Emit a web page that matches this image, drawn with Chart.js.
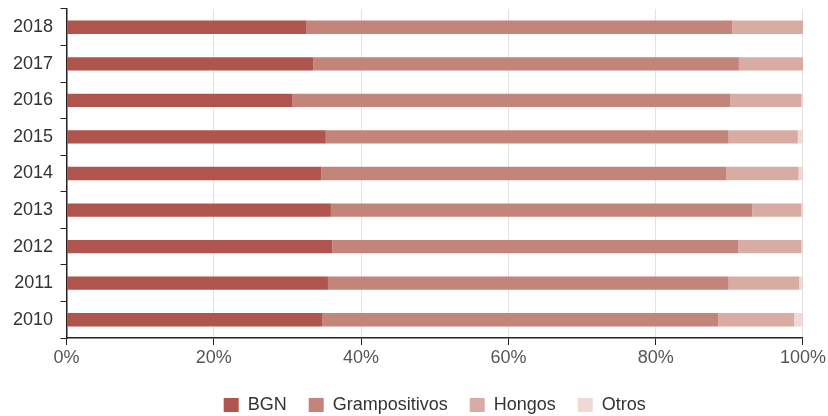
<!DOCTYPE html>
<html>
<head>
<meta charset="utf-8">
<script src="https://cdn.jsdelivr.net/npm/chart.js@4/dist/chart.umd.min.js"></script>
<style>
  html, body { margin: 0; padding: 0; background: #ffffff; }
  #wrap { width: 828px; height: 416px; position: relative; }
</style>
</head>
<body>
<div id="wrap"><canvas id="chart" width="828" height="416"></canvas></div>
<script>
// Years, top to bottom as drawn
const years = ['2018', '2017', '2016', '2015', '2014', '2013', '2012', '2011', '2010'];

// Share of each group per year (%)
const bgn           = [32.6, 33.5, 30.7, 35.2, 34.6, 35.9, 36.1, 35.5, 34.7];
const grampositivos = [57.8, 57.8, 59.4, 54.7, 55.0, 57.2, 55.1, 54.4, 53.8];
const hongos        = [ 9.6,  8.7,  9.7,  9.4,  9.8,  6.7,  8.6,  9.6, 10.3];
const otros         = [ 0.0,  0.0,  0.2,  0.7,  0.6,  0.2,  0.2,  0.5,  1.2];

const seriesNames = ['BGN', 'Grampositivos', 'Hongos', 'Otros'];
const xTicks = [0, 20, 40, 60, 80, 100];

const colors = ['#b0554d', '#c38479', '#d8aca3', '#eed9d4'];
const values = [bgn, grampositivos, hongos, otros];

const datasets = seriesNames.map((name, i) => ({
  label: name,
  data: values[i],
  backgroundColor: colors[i],
  borderWidth: 0,
  categoryPercentage: 0.4,
  barPercentage: 0.91
}));

const axisColor = '#222222';
const font = { family: 'Liberation Sans, Arial, sans-serif', size: 18 };

// The legend's item spacing and its vertical padding share one option;
// keep the wide spacing but drop part of the space below the legend row.
const legendTrim = {
  id: 'legendTrim',
  beforeLayout(chart) {
    const lg = chart.legend;
    if (lg && !lg._trimmed) {
      const fit = lg.fit.bind(lg);
      lg.fit = function () {
        fit();
        this.height = Math.max(this.height - 8, 0);
      };
      lg._trimmed = true;
    }
  }
};

new Chart(document.getElementById('chart'), {
  type: 'bar',
  data: { labels: years, datasets: datasets },
  plugins: [legendTrim],
  options: {
    indexAxis: 'y',
    responsive: false,
    animation: false,
    devicePixelRatio: 1,
    layout: { padding: { top: 9, right: 25, left: 0, bottom: 0 } },
    plugins: {
      tooltip: { enabled: false },
      legend: {
        position: 'bottom',
        fullSize: false,
        labels: {
          boxWidth: 15,
          boxHeight: 14,
          padding: 22,
          color: '#333333',
          font: font
        }
      }
    },
    scales: {
      x: {
        stacked: true,
        min: 0,
        max: 100,
        afterBuildTicks: (scale) => { scale.ticks = xTicks.map(v => ({ value: v })); },
        afterFit: (scale) => { scale.height = 36; },
        ticks: {
          color: '#555555',
          padding: 2,
          font: font,
          callback: (v) => v + '%'
        },
        grid: {
          color: (ctx) => (ctx.tick && ctx.tick.value === 0) ? 'rgba(0,0,0,0)' : '#e2e2e2',
          tickColor: axisColor,
          tickLength: 7,
          drawTicks: true
        },
        border: { color: axisColor, width: 1.5 }
      },
      y: {
        stacked: true,
        afterFit: (scale) => {
          scale.width = 66.5;
          scale.paddingTop = 0;
          scale.paddingBottom = 0;
        },
        ticks: {
          color: '#333333',
          padding: 7.5,
          font: font
        },
        grid: {
          offset: true,
          drawOnChartArea: false,
          drawTicks: true,
          tickLength: 6,
          tickColor: axisColor
        },
        border: { color: axisColor, width: 1.5 }
      }
    }
  }
});
</script>
</body>
</html>
